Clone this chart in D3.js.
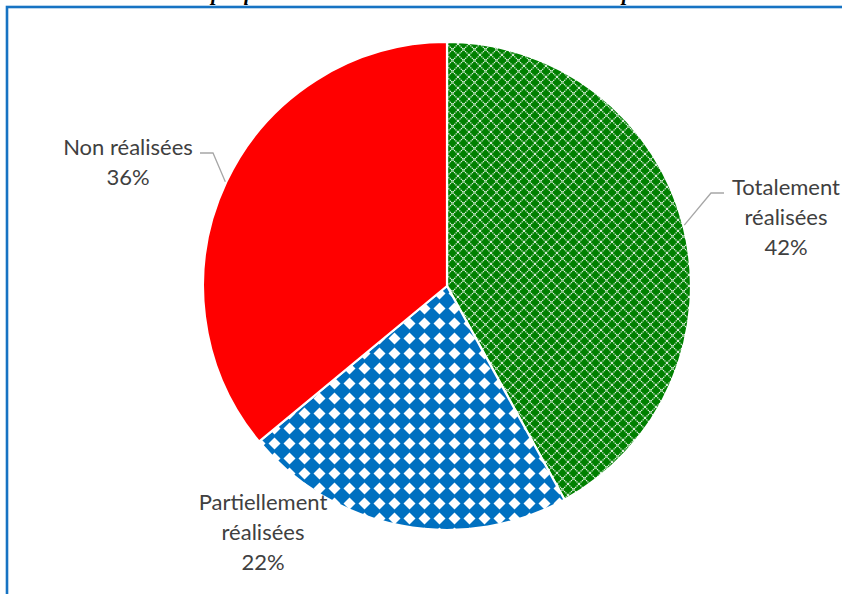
<!DOCTYPE html>
<html>
<head>
<meta charset="utf-8">
<script src="https://cdn.jsdelivr.net/npm/d3@7"></script>
<style>
  body { margin: 0; background: #fff; }
  svg { display: block; }
</style>
</head>
<body>
<svg width="842" height="594"></svg>
<script>
const svg = d3.select("svg");

// DATA
const categories = ["Totalement réalisées", "Partiellement réalisées", "Non réalisées"];
const values = [42, 22, 36];
const labelLines = [["Totalement", "réalisées"], ["Partiellement", "réalisées"], ["Non réalisées"]];
const titleText = "Graphique n°1 : Niveau de réalisation des activités prévues";

// CONSTANTS
const width = +svg.attr("width");
const center = { x: 447, y: 286 };
const radius = 244;
const lineHeight = 30;
const textColor = "#404040";

// label layout (offsets from pie centre) and whether a leader line is drawn
const labelLayout = [
  { dx: 339, dy: -91, leader: true },
  { dx: -184, dy: 224, leader: false },
  { dx: -319, dy: -131, leader: true }
];

const data = categories.map((c, i) => ({ name: c, value: values[i], lines: labelLines[i] }));

// PATTERNS
const defs = svg.append("defs");

const gSize = 11;
const pGreen = defs.append("pattern")
  .attr("id", "greenLattice")
  .attr("patternUnits", "userSpaceOnUse")
  .attr("width", gSize).attr("height", gSize);
pGreen.append("rect").attr("width", gSize).attr("height", gSize).attr("fill", "#008000");
pGreen.append("path")
  .attr("d", `M0,0 L${gSize},${gSize} M${gSize},0 L0,${gSize}`)
  .attr("stroke", "#fff")
  .attr("stroke-width", 1.2)
  .attr("stroke-dasharray", "1.3 0.7")
  .attr("opacity", 0.9);

const bSize = 15;
const pBlue = defs.append("pattern")
  .attr("id", "blueDiamond")
  .attr("patternUnits", "userSpaceOnUse")
  .attr("width", bSize).attr("height", bSize);
pBlue.append("rect").attr("width", bSize).attr("height", bSize).attr("fill", "#0070C0");
pBlue.append("polygon")
  .attr("points", `${bSize / 2},1.5 ${bSize - 1.5},${bSize / 2} ${bSize / 2},${bSize - 1.5} 1.5,${bSize / 2}`)
  .attr("fill", "#fff");

const fills = ["url(#greenLattice)", "url(#blueDiamond)", "#FF0000"];

// FRAME
svg.append("rect")
  .attr("x", 7).attr("y", 7)
  .attr("width", width + 20).attr("height", 700)
  .attr("fill", "none")
  .attr("stroke", "#1673c3")
  .attr("stroke-width", 2.6);

// TITLE (cut off by the top of the picture, only descenders show)
svg.append("text")
  .attr("x", 433).attr("y", -0.5)
  .attr("text-anchor", "middle")
  .attr("font-family", "'Liberation Serif', 'Times New Roman', serif")
  .attr("font-weight", "bold")
  .attr("font-style", "italic")
  .attr("font-size", 21)
  .attr("fill", "#000")
  .text(titleText);

// PIE
const pie = d3.pie().value(d => d.value).sort(null);
const arc = d3.arc().innerRadius(0).outerRadius(radius);
const arcs = pie(data);

const g = svg.append("g")
  .attr("transform", `translate(${center.x}, ${center.y})`);

g.selectAll("path.slice")
  .data(arcs)
  .enter()
  .append("path")
  .attr("class", "slice")
  .attr("d", arc)
  .attr("fill", (d, i) => fills[i])
  .attr("stroke", "#fff")
  .attr("stroke-width", 2.2)
  .attr("stroke-linejoin", "round");

// LEADER LINES: from the arc mid-point to the side of the label
const edgePoint = d => {
  const a = (d.startAngle + d.endAngle) / 2;
  return [Math.sin(a) * (radius + 1), -Math.cos(a) * (radius + 1)];
};

g.selectAll("polyline.leader")
  .data(arcs.filter((d, i) => labelLayout[i].leader))
  .enter()
  .append("polyline")
  .attr("class", "leader")
  .attr("fill", "none")
  .attr("stroke", "#a6a6a6")
  .attr("stroke-width", 1.3)
  .attr("points", d => {
    const i = d.index;
    const p = edgePoint(d);
    const lay = labelLayout[i];
    const side = p[0] > 0 ? 1 : -1;
    const yLine = lay.dy - 2;
    const xText = lay.dx - side * (i === 0 ? 62 : 72);
    const xKnee = xText - side * 13;
    return `${p[0]},${p[1]} ${xKnee},${yLine} ${xText},${yLine}`;
  });

// LABELS
const labels = g.selectAll("text.label")
  .data(arcs)
  .enter()
  .append("text")
  .attr("class", "label")
  .attr("text-anchor", "middle")
  .attr("font-family", "Lato, 'Open Sans', sans-serif")
  .attr("font-size", 22)
  .attr("fill", textColor)
  .attr("transform", (d, i) => `translate(${labelLayout[i].dx}, ${labelLayout[i].dy})`);

labels.each(function(d) {
  const t = d3.select(this);
  const lines = d.data.lines.concat([`${d.data.value}%`]);
  lines.forEach((l, k) => {
    t.append("tspan")
      .attr("x", 0)
      .attr("y", k * lineHeight)
      .text(l);
  });
});
</script>
</body>
</html>
